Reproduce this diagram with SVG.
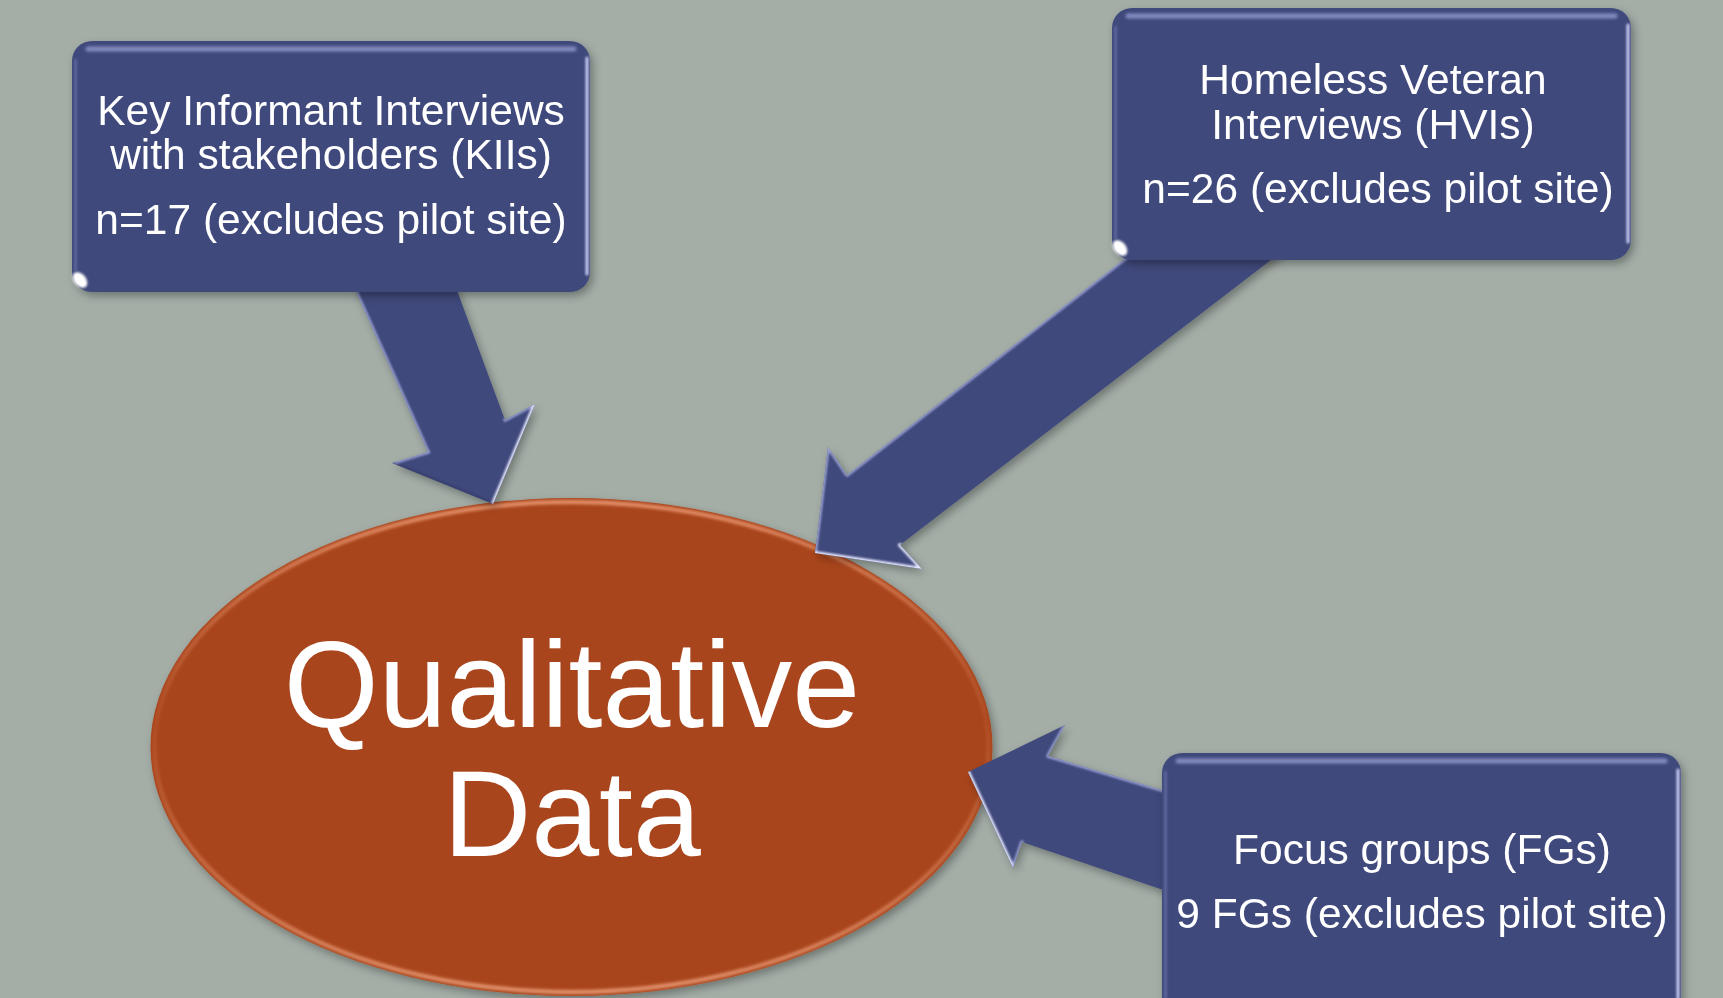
<svg xmlns="http://www.w3.org/2000/svg" xmlns:xlink="http://www.w3.org/1999/xlink" width="1723" height="998" viewBox="0 0 1723 998">
  <style>
    .box { fill: #414A7C; }
    .arrow { fill: #414A7C; }
    .label { font-family: "Liberation Sans", Arial, sans-serif; font-size: 42.5px; fill: #FFFFFF; text-anchor: middle; }
    .big { font-family: "Liberation Sans", Arial, sans-serif; font-size: 122px; fill: #FFFFFF; text-anchor: middle; }
    .topband { fill: none; stroke: #8F98CE; stroke-width: 5; stroke-linecap: round; opacity: 0.85; }
    .rightedge { fill: none; stroke: #C8CEF4; stroke-width: 3; stroke-linecap: round; }
    .leftedge { fill: none; stroke: #7079B2; stroke-width: 2.5; stroke-linecap: round; opacity: 0.7; }
    .shine { fill: none; stroke: #E4E7FF; stroke-width: 4; stroke-linejoin: round; stroke-linecap: round; }
    .soft { fill: none; stroke: #A9B0E2; stroke-width: 3.5; stroke-linejoin: round; stroke-linecap: round; opacity: 0.85; }
    .dim { fill: none; stroke: #2A3058; stroke-width: 3; stroke-linejoin: round; opacity: 0.45; }
    .glint { fill: #FFFFFF; }
  </style>
  <defs>
    <filter id="shadow" x="-10%" y="-10%" width="125%" height="130%">
      <feDropShadow dx="3" dy="4" stdDeviation="4" flood-color="#000000" flood-opacity="0.32"/>
    </filter>
    <filter id="blur2" filterUnits="userSpaceOnUse" x="0" y="0" width="1723" height="998">
      <feGaussianBlur stdDeviation="1.8"/>
    </filter>
    <filter id="blur1" filterUnits="userSpaceOnUse" x="0" y="0" width="1723" height="998">
      <feGaussianBlur stdDeviation="0.8"/>
    </filter>
    <linearGradient id="rim" x1="0" y1="0" x2="0" y2="1">
      <stop offset="0" stop-color="#F0A07A" stop-opacity="0.85"/>
      <stop offset="0.45" stop-color="#D9805A" stop-opacity="0.15"/>
      <stop offset="1" stop-color="#F2A884" stop-opacity="0.8"/>
    </linearGradient>
    <polygon id="a1" points="353,285 455,285 505,420 535,404 493,504 392,463 428,452"/>
    <polygon id="a2" points="1136,250 1284,250 900,545 922,569 815,553 828,447 847,475"/>
    <polygon id="a3" points="1175,794 1048,756 1065,725 968,772 1013,868 1022,842 1175,894"/>
    <clipPath id="c1"><use xlink:href="#a1"/></clipPath>
    <clipPath id="c2"><use xlink:href="#a2"/></clipPath>
    <clipPath id="c3"><use xlink:href="#a3"/></clipPath>
    <clipPath id="ce"><ellipse cx="571.5" cy="747" rx="421" ry="249"/></clipPath>
  </defs>

  <!-- backdrop -->
  <rect x="0" y="0" width="1723" height="998" fill="#A4AEA7"/>

  <!-- central ellipse -->
  <g id="qualitative-data">
    <ellipse cx="571.5" cy="747" rx="421" ry="249" fill="#A9451B" filter="url(#shadow)"/>
    <g clip-path="url(#ce)">
      <ellipse cx="571.5" cy="747" rx="417" ry="245" fill="none" stroke="url(#rim)" stroke-width="4" filter="url(#blur2)"/>
    </g>
    <text class="big" x="572" y="727">Qualitative</text>
    <text class="big" x="572" y="856">Data</text>
  </g>

  <!-- block arrows feeding the ellipse -->
  <g id="connectors">
    <g id="arrow-kii">
      <use xlink:href="#a1" class="arrow" filter="url(#shadow)"/>
      <g clip-path="url(#c1)">
        <g filter="url(#blur1)">
          <polyline class="soft" points="353,285 428,452"/>
          <polyline class="soft" points="392,463 428,452"/>
          <polyline class="soft" points="505,420 535,404"/>
          <polyline class="shine" points="535,404 493,504"/>
          <polyline class="dim" points="392,463 493,504"/>
        </g>
      </g>
    </g>
    <g id="arrow-hvi">
      <use xlink:href="#a2" class="arrow" filter="url(#shadow)"/>
      <g clip-path="url(#c2)">
        <g filter="url(#blur1)">
          <polyline class="soft" points="1136,250 847,475 828,447"/>
          <polyline class="soft" points="828,447 815,553"/>
          <polyline class="shine" points="815,553 922,569 900,545"/>
        </g>
      </g>
    </g>
    <g id="arrow-fg">
      <use xlink:href="#a3" class="arrow" filter="url(#shadow)"/>
      <g clip-path="url(#c3)">
        <g filter="url(#blur1)">
          <polyline class="soft" points="1175,794 1048,756 1065,725"/>
          <polyline class="shine" points="968,772 1013,868"/>
          <polyline class="soft" points="1013,868 1022,842"/>
        </g>
      </g>
    </g>
  </g>

  <!-- source boxes -->
  <g id="kii">
    <rect class="box" x="72" y="41" width="518" height="251" rx="20" filter="url(#shadow)"/>
    <line class="topband" x1="88" y1="49" x2="574" y2="49" filter="url(#blur2)"/>
    <line class="rightedge" x1="587" y1="58" x2="587" y2="274" filter="url(#blur1)"/>
    <line class="leftedge" x1="75.5" y1="60" x2="75.5" y2="270" filter="url(#blur1)"/>
    <ellipse class="glint" cx="80" cy="280" rx="6" ry="9" transform="rotate(-40 80 280)" filter="url(#blur1)"/>
    <text class="label" x="331" y="125">Key Informant Interviews</text>
    <text class="label" x="331" y="169">with stakeholders (KIIs)</text>
    <text class="label" x="331" y="234">n=17 (excludes pilot site)</text>
  </g>

  <g id="hvi">
    <rect class="box" x="1112" y="8" width="519" height="252" rx="20" filter="url(#shadow)"/>
    <line class="topband" x1="1128" y1="16" x2="1615" y2="16" filter="url(#blur2)"/>
    <line class="rightedge" x1="1628" y1="25" x2="1628" y2="242" filter="url(#blur1)"/>
    <line class="leftedge" x1="1115.5" y1="27" x2="1115.5" y2="238" filter="url(#blur1)"/>
    <ellipse class="glint" cx="1120" cy="248" rx="6" ry="9" transform="rotate(-40 1120 248)" filter="url(#blur1)"/>
    <text class="label" x="1373" y="94">Homeless Veteran</text>
    <text class="label" x="1373" y="139">Interviews (HVIs)</text>
    <text class="label" x="1378" y="203">n=26 (excludes pilot site)</text>
  </g>

  <g id="fg">
    <rect class="box" x="1162" y="753" width="519" height="270" rx="20" filter="url(#shadow)"/>
    <line class="topband" x1="1178" y1="761" x2="1665" y2="761" filter="url(#blur2)"/>
    <line class="rightedge" x1="1678" y1="770" x2="1678" y2="998" filter="url(#blur1)"/>
    <line class="leftedge" x1="1165.5" y1="772" x2="1165.5" y2="998" filter="url(#blur1)"/>
    <text class="label" x="1422" y="864">Focus groups (FGs)</text>
    <text class="label" x="1422" y="928">9 FGs (excludes pilot site)</text>
  </g>
</svg>
